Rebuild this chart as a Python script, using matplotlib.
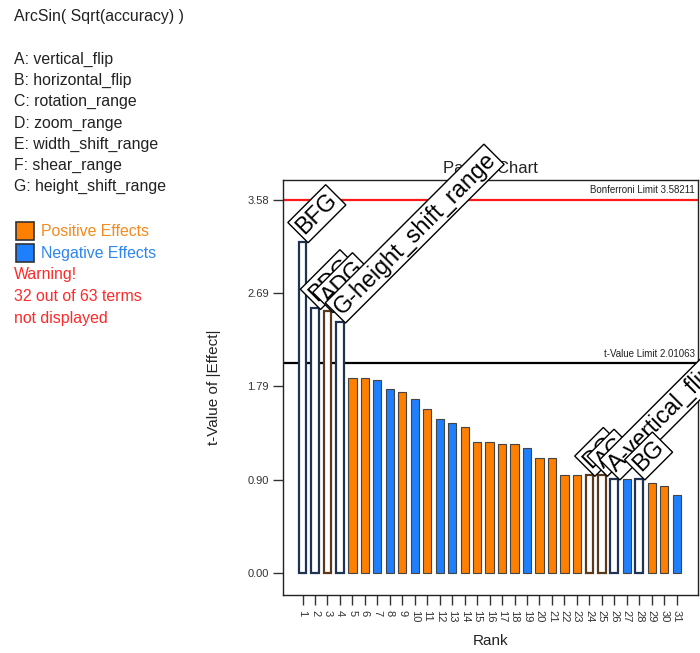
import matplotlib
matplotlib.use("Agg")
import matplotlib.pyplot as plt
import numpy as np

plt.rcParams['font.family'] = ['Liberation Sans', 'DejaVu Sans']

# ---- data ----
ranks = list(range(1, 32))
t_values = [3.18, 2.54, 2.51, 2.41, 1.87, 1.87, 1.85, 1.77, 1.74, 1.67,
            1.575, 1.48, 1.435, 1.40, 1.26, 1.26, 1.235, 1.235, 1.20, 1.105,
            1.105, 0.94, 0.94, 0.94, 0.94, 0.905, 0.905, 0.905, 0.865, 0.84, 0.75]
signs = ['N', 'N', 'P', 'N', 'P', 'P', 'N', 'N', 'P', 'N',
         'P', 'N', 'N', 'P', 'P', 'P', 'P', 'P', 'N', 'P',
         'P', 'P', 'P', 'P', 'P', 'N', 'N', 'N', 'P', 'P', 'N']
term_labels = ['BFG', 'BDG', 'ADG', 'G-height_shift_range', '', '', '', '', '', '',
               '', '', '', '', '', '', '', '', '', '',
               '', '', '', 'DG', 'AC', 'A-vertical_flip', '', 'BG', '', '', '']
bonferroni = 3.58211
t_limit = 2.01063
factors = ['A: vertical_flip', 'B: horizontal_flip', 'C: rotation_range',
           'D: zoom_range', 'E: width_shift_range', 'F: shear_range',
           'G: height_shift_range']
response = 'ArcSin( Sqrt(accuracy) )'
warning_lines = ['Warning!', '32 out of 63 terms', 'not displayed']

ORANGE = '#FF7F00'
BLUE = '#1E7FFF'
NAVY = '#1E3452'
BROWN = '#5A3A1C'

fig = plt.figure(figsize=(7.0, 6.53), dpi=100)
ax = fig.add_axes([0.404, 0.0888, 0.593, 0.6355])

for r, v, s, lab in zip(ranks, t_values, signs, term_labels):
    if lab:
        ec = NAVY if s == 'N' else BROWN
        ax.bar(r, v, width=0.62, color='white', edgecolor=ec, linewidth=1.6, zorder=3)
    else:
        fc = BLUE if s == 'N' else ORANGE
        ax.bar(r, v, width=0.66, color=fc, edgecolor='#444444', linewidth=0.8, zorder=3)

ax.axhline(bonferroni, color='#FF1A1A', lw=1.6, zorder=2)
ax.axhline(t_limit, color='black', lw=1.6, zorder=2)
ax.text(32.45, bonferroni + 0.04, 'Bonferroni Limit %.5f' % bonferroni,
        ha='right', va='bottom', fontsize=7, color='#222222')
ax.text(32.45, t_limit + 0.04, 't-Value Limit %.5f' % t_limit,
        ha='right', va='bottom', fontsize=7, color='#222222')

for r, v, lab in zip(ranks, t_values, term_labels):
    if lab:
        ax.annotate(lab, xy=(r, v), xytext=(4, 2), textcoords='offset points',
                    rotation=45, rotation_mode='anchor', ha='left', va='bottom',
                    fontsize=16.8, color='black', zorder=5, annotation_clip=False,
                    bbox=dict(boxstyle='square,pad=0.12', fc='white', ec='black', lw=1.0))

ax.set_xlim(-0.58, 32.7)
ax.set_ylim(-0.21, 3.77)
yt = np.linspace(0, bonferroni, 5)
ax.set_yticks(yt)
ax.set_yticklabels(['%.2f' % t for t in yt])
ax.set_xticks(ranks)
ax.set_xticklabels([str(r) for r in ranks], rotation=-90)
ax.tick_params(axis='both', direction='out', length=7, width=1, colors='#333333',
               labelsize=8, pad=3)
ax.tick_params(axis='x', pad=4)
for sp in ax.spines.values():
    sp.set_color('#222222')
    sp.set_linewidth(1.0)

ax.set_title('Pareto Chart', fontsize=12, color='#222222', pad=5)
ax.set_xlabel('Rank', fontsize=11, color='#222222', labelpad=8)
ax.set_ylabel('t-Value of |Effect|', fontsize=11, color='#222222', labelpad=19)

# left-side texts
FS = 11.4
fig.text(14 / 700, 1 - 16 / 653, response, fontsize=FS, va='center', ha='left', color='#222222')
ys = [59, 80, 101, 123, 144, 165, 186]
for y, f in zip(ys, factors):
    fig.text(14 / 700, 1 - y / 653, f, fontsize=FS, va='center', ha='left', color='#222222')

for y, col, txt in [(231, ORANGE, 'Positive Effects'), (253, BLUE, 'Negative Effects')]:
    sq = plt.Rectangle((16 / 700, 1 - (y + 9) / 653), 18 / 700, 18 / 653,
                       transform=fig.transFigure, fc=col, ec='#333333', lw=1.2)
    fig.patches.append(sq)
    fig.text(41 / 700, 1 - y / 653, txt, fontsize=FS, va='center', ha='left',
             color='#F58A1F' if col == ORANGE else '#2E86F0')

for y, txt in zip([274, 296, 318], warning_lines):
    fig.text(14 / 700, 1 - y / 653, txt, fontsize=FS, va='center', ha='left', color='#FF2A2A')

fig.savefig('out.png', dpi=100)
